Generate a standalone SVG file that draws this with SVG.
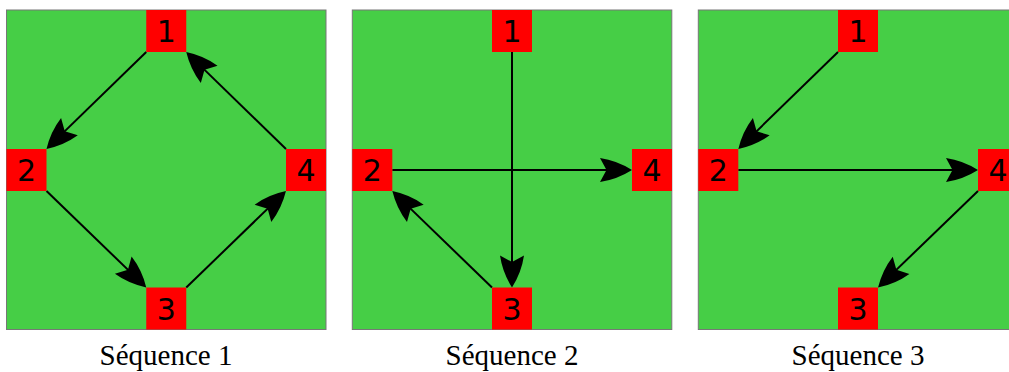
<svg xmlns="http://www.w3.org/2000/svg" width="1009" height="372" viewBox="0 0 1009 372">
<style>
.panel{fill:#46CE46;stroke:#777;stroke-width:1}
.node rect{fill:#FF0000}
.node text{font-family:"DejaVu Sans",sans-serif;font-size:30px;fill:#000;text-anchor:middle}
.edge{stroke:#000;stroke-width:2;fill:none;marker-end:url(#ah)}
.cap{font-family:"Liberation Serif",serif;font-size:29px;fill:#000;text-anchor:middle}
</style>
<defs>
<marker id="ah" markerUnits="userSpaceOnUse" markerWidth="44" markerHeight="32" viewBox="-34 -16 44 32" refX="0" refY="0" orient="auto">
<path d="M3,0 Q-12,-9.5 -29,-12 L-22.5,0 L-29,12 Q-12,9.5 3,0 Z" fill="#000"/>
</marker>
</defs>
<g id="panels">
<rect class="panel" x="6.5" y="10" width="319.5" height="319.5"/>
<rect class="panel" x="352.3" y="10" width="319.5" height="319.5"/>
<rect class="panel" x="698.3" y="10" width="319.5" height="319.5"/>
</g>
<g id="connectors">
<line class="edge" x1="146.25" y1="52" x2="48.65" y2="146.9"/>
<line class="edge" x1="286" y1="149" x2="188.4" y2="54.1"/>
<line class="edge" x1="46.5" y1="191" x2="144.1" y2="285.4"/>
<line class="edge" x1="186.25" y1="287.5" x2="283.8" y2="193.1"/>
<line class="edge" x1="512" y1="52" x2="512" y2="284.5"/>
<line class="edge" x1="392.3" y1="170" x2="629" y2="170"/>
<line class="edge" x1="492" y1="287.5" x2="394.5" y2="193.1"/>
<line class="edge" x1="838" y1="52" x2="740.5" y2="146.9"/>
<line class="edge" x1="738.3" y1="170" x2="975" y2="170"/>
<line class="edge" x1="978" y1="191" x2="880.2" y2="285.4"/>
</g>
<g id="s1n1" class="node"><rect x="146.25" y="10" width="40" height="42"/><text x="166.25" y="42">1</text></g>
<g id="s1n2" class="node"><rect x="6.5" y="149" width="40" height="42"/><text x="26.5" y="181">2</text></g>
<g id="s1n3" class="node"><rect x="146.25" y="287.5" width="40" height="42"/><text x="166.25" y="319.5">3</text></g>
<g id="s1n4" class="node"><rect x="286" y="149" width="40" height="42"/><text x="306" y="181">4</text></g>
<g id="s2n1" class="node"><rect x="492" y="10" width="40" height="42"/><text x="512" y="42">1</text></g>
<g id="s2n2" class="node"><rect x="352.3" y="149" width="40" height="42"/><text x="372.3" y="181">2</text></g>
<g id="s2n3" class="node"><rect x="492" y="287.5" width="40" height="42"/><text x="512" y="319.5">3</text></g>
<g id="s2n4" class="node"><rect x="632" y="149" width="40" height="42"/><text x="652" y="181">4</text></g>
<g id="s3n1" class="node"><rect x="838" y="10" width="40" height="42"/><text x="858" y="42">1</text></g>
<g id="s3n2" class="node"><rect x="698.3" y="149" width="40" height="42"/><text x="718.3" y="181">2</text></g>
<g id="s3n3" class="node"><rect x="838" y="287.5" width="40" height="42"/><text x="858" y="319.5">3</text></g>
<g id="s3n4" class="node"><rect x="978" y="149" width="40" height="42"/><text x="998" y="181">4</text></g>
<g id="captions">
<text class="cap" x="166" y="365">Séquence 1</text>
<text class="cap" x="512" y="365">Séquence 2</text>
<text class="cap" x="858" y="365">Séquence 3</text>
</g>
</svg>
